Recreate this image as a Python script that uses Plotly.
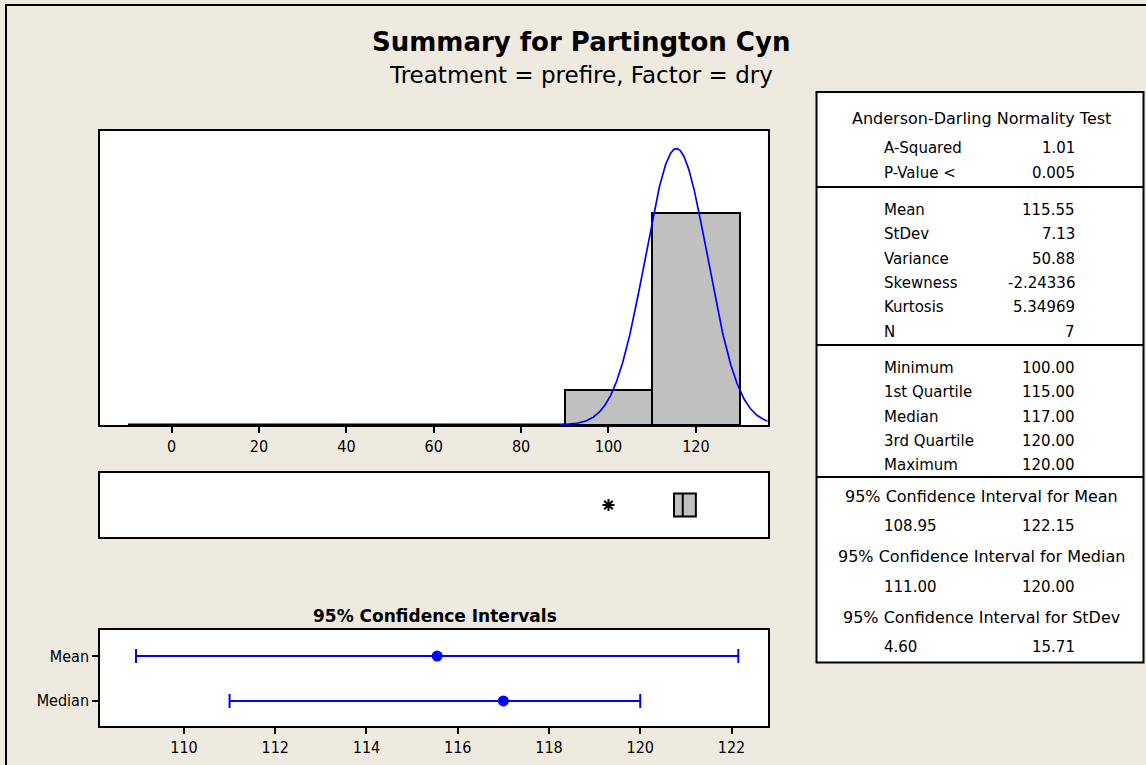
import numpy as np
import plotly.graph_objects as go

W, H = 1146, 765

# ---------------- data ----------------
bin_centers = [0, 20, 40, 60, 80, 100, 120]
bin_counts = [0, 0, 0, 0, 0, 1, 6]
bin_width = 20
hist_ticks = [0, 20, 40, 60, 80, 100, 120]

n_obs = 7
mean_val = 115.55
sd_val = 7.13

box_min = 100.0
box_q1 = 115.0
box_median = 117.0
box_q3 = 120.0
box_max = 120.0
outliers = [100.0]

ci_labels = ["Mean", "Median"]
ci_points = [115.55, 117.0]
ci_lower = [108.95, 111.00]
ci_upper = [122.15, 120.00]
ci_ticks = [110, 112, 114, 116, 118, 120, 122]

ad_labels = ["A-Squared", "P-Value <"]
ad_values = ["1.01", "0.005"]
desc_labels = ["Mean", "StDev", "Variance", "Skewness", "Kurtosis", "N"]
desc_values = ["115.55", "7.13", "50.88", "-2.24336", "5.34969", "7"]
quant_labels = ["Minimum", "1st Quartile", "Median", "3rd Quartile", "Maximum"]
quant_values = ["100.00", "115.00", "117.00", "120.00", "120.00"]
ci_titles = ["95% Confidence Interval for Mean",
             "95% Confidence Interval for Median",
             "95% Confidence Interval for StDev"]
ci_low_txt = ["108.95", "111.00", "4.60"]
ci_high_txt = ["122.15", "120.00", "15.71"]

# ---------------- helpers ----------------
def px(x):
    return x / W

def py(y):
    return 1 - y / H

BG = "#EEEAE0"
NARROW = "Liberation Sans Narrow, DejaVu Sans Condensed, Roboto Condensed, Liberation Sans, sans-serif"
TAB = "DejaVu Sans, sans-serif"

fig = go.Figure()

# histogram bars
fig.add_trace(go.Bar(
    x=bin_centers, y=bin_counts, width=bin_width,
    marker=dict(color="#C0C0C0", line=dict(color="black", width=2)),
    xaxis="x", yaxis="y", showlegend=False, hoverinfo="skip"))

# zero-count bins baseline
zero_edges = [c - bin_width / 2 for c, k in zip(bin_centers, bin_counts) if k == 0]
fig.add_trace(go.Scatter(
    x=[zero_edges[0], zero_edges[-1] + bin_width], y=[0, 0], mode="lines",
    line=dict(color="black", width=3), xaxis="x", yaxis="y",
    showlegend=False, hoverinfo="skip"))

# fitted normal curve
xc = np.linspace(89, 136.5, 400)
yc = n_obs * bin_width * np.exp(-0.5 * ((xc - mean_val) / sd_val) ** 2) / (sd_val * np.sqrt(2 * np.pi))
fig.add_trace(go.Scatter(
    x=xc, y=yc, mode="lines", line=dict(color="#0000FF", width=1.7),
    xaxis="x", yaxis="y", showlegend=False, hoverinfo="skip"))

# box plot
fig.add_trace(go.Box(
    y=[0], q1=[box_q1], median=[box_median], q3=[box_q3],
    lowerfence=[box_q1], upperfence=[box_max], orientation="h",
    width=1.0, fillcolor="#C0C0C0", line=dict(color="black", width=2),
    boxpoints=False, xaxis="x2", yaxis="y2", showlegend=False, hoverinfo="skip"))
fig.add_trace(go.Scatter(
    x=outliers, y=[0] * len(outliers), mode="markers",
    marker=dict(symbol="asterisk-open", size=10, color="black",
                line=dict(color="black", width=2)),
    xaxis="x2", yaxis="y2", showlegend=False, hoverinfo="skip"))

# confidence intervals
ci_y = [1, 0]
fig.add_trace(go.Scatter(
    x=ci_points, y=ci_y, mode="markers",
    marker=dict(color="#0000FF", size=11),
    error_x=dict(type="data", symmetric=False,
                 array=[u - p for u, p in zip(ci_upper, ci_points)],
                 arrayminus=[p - l for l, p in zip(ci_lower, ci_points)],
                 color="#0000FF", thickness=2, width=7),
    xaxis="x3", yaxis="y3", showlegend=False, hoverinfo="skip"))

axis_common = dict(showline=True, mirror=True, linecolor="black", linewidth=1.5,
                   showgrid=False, zeroline=False)

hist_dom_x = [px(100), px(767.5)]
xrange_hist = [-16.4, 136.4]

layout = dict(
    width=W, height=H, margin=dict(l=0, r=0, t=0, b=0),
    paper_bgcolor=BG, plot_bgcolor="white",
    xaxis=dict(domain=hist_dom_x, range=xrange_hist, anchor="y",
               tickvals=hist_ticks, ticks="outside", ticklen=6, tickwidth=1.5,
               tickcolor="black", tickfont=dict(family=NARROW, size=16, color="black"),
               **axis_common),
    yaxis=dict(domain=[py(425), py(131)], range=[0, 8.33], anchor="x",
               showticklabels=False, ticks="", **axis_common),
    xaxis2=dict(domain=hist_dom_x, range=xrange_hist, anchor="y2",
                showticklabels=False, ticks="", **axis_common),
    yaxis2=dict(domain=[py(537), py(473)], range=[-1.4, 1.4], anchor="x2",
                showticklabels=False, ticks="", **axis_common),
    xaxis3=dict(domain=[px(100), px(768)], range=[108.16, 122.8], anchor="y3",
                tickvals=ci_ticks, ticks="outside", ticklen=6, tickwidth=1.5,
                tickcolor="black", tickfont=dict(family=NARROW, size=16, color="black"),
                **axis_common),
    yaxis3=dict(domain=[py(726), py(630)], range=[-0.56, 1.58], anchor="x3",
                tickvals=ci_y, ticktext=ci_labels, ticks="outside", ticklen=6,
                tickwidth=1.5, tickcolor="black",
                tickfont=dict(family=NARROW, size=16, color="black"),
                **axis_common),
    bargap=0,
)
fig.update_layout(**layout)

shapes = []
annotations = []

# outer frame
shapes.append(dict(type="rect", xref="paper", yref="paper",
                   x0=px(6), y0=py(800), x1=px(1200), y1=py(5),
                   line=dict(color="black", width=2), fillcolor="rgba(0,0,0,0)"))

# titles
annotations.append(dict(text="<b>Summary for Partington Cyn</b>", x=px(581), y=py(42),
                        xref="paper", yref="paper", showarrow=False,
                        xanchor="center", yanchor="middle",
                        font=dict(family=TAB, size=26, color="black")))
annotations.append(dict(text="Treatment = prefire, Factor = dry", x=px(581), y=py(75),
                        xref="paper", yref="paper", showarrow=False,
                        xanchor="center", yanchor="middle",
                        font=dict(family=TAB, size=23, color="black")))
annotations.append(dict(text="<b>95% Confidence Intervals</b>", x=px(435), y=py(616),
                        xref="paper", yref="paper", showarrow=False,
                        xanchor="center", yanchor="middle",
                        font=dict(family=TAB, size=17, color="black")))

# table box
TL, TR, TT, TB = 816.5, 1143.5, 92, 662.5
shapes.append(dict(type="rect", xref="paper", yref="paper", layer="below",
                   x0=px(TL), x1=px(TR), y0=py(TB), y1=py(TT),
                   line=dict(color="black", width=2), fillcolor="white"))
for yl in [187, 345, 477]:
    shapes.append(dict(type="line", xref="paper", yref="paper",
                       x0=px(TL), x1=px(TR), y0=py(yl), y1=py(yl),
                       line=dict(color="black", width=2)))

LX, RX, CX = 882, 1077, 981

def txt(s, x, y, anchor, size=15):
    annotations.append(dict(text=s, x=px(x), y=py(y), xref="paper", yref="paper",
                            showarrow=False, xanchor=anchor, yanchor="middle",
                            font=dict(family=TAB, size=size, color="black")))

txt("Anderson-Darling Normality Test", CX, 118, "center", 16)
for lab, val, y in zip(ad_labels, ad_values, [148, 173]):
    txt(lab, LX, y, "left"); txt(val, RX, y, "right")
for i, (lab, val) in enumerate(zip(desc_labels, desc_values)):
    y = 210 + i * 24.3
    txt(lab, LX, y, "left"); txt(val, RX, y, "right")
for i, (lab, val) in enumerate(zip(quant_labels, quant_values)):
    y = 368 + i * 24.3
    txt(lab, LX, y, "left"); txt(val, RX, y, "right")
for i, (t, lo, hi) in enumerate(zip(ci_titles, ci_low_txt, ci_high_txt)):
    y0 = 496 + i * 60.7
    txt(t, CX, y0, "center", 16)
    txt(lo, LX, y0 + 30, "left"); txt(hi, RX, y0 + 30, "right")

fig.update_layout(shapes=shapes, annotations=annotations)
fig.write_html("out.html",
               config={"displayModeBar": False},
               post_script="document.body.style.margin='0px';"
                           "document.body.style.overflow='hidden';"
                           "document.documentElement.style.overflow='hidden';")
